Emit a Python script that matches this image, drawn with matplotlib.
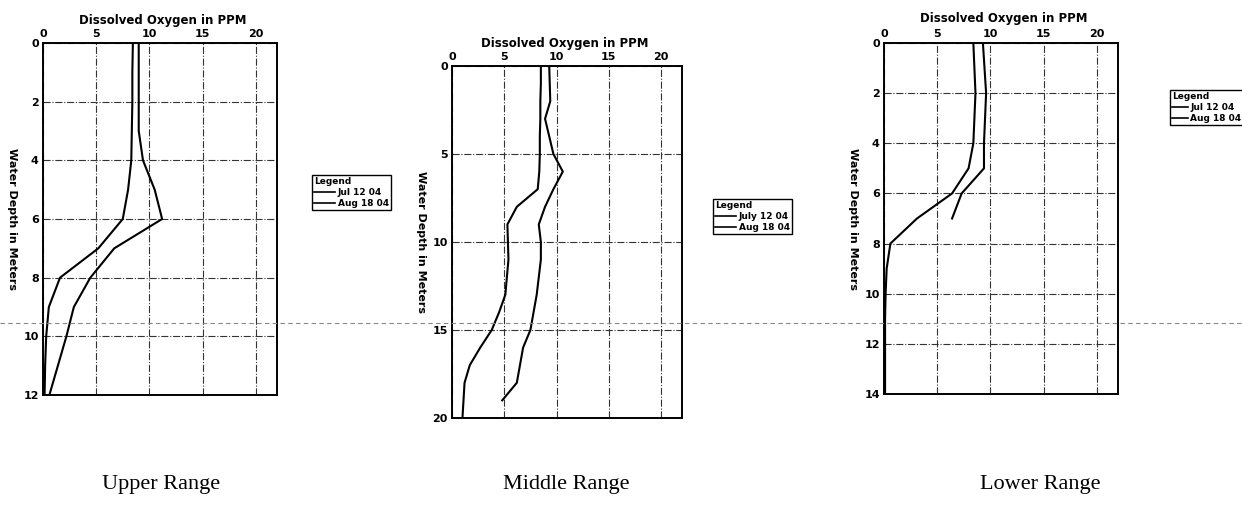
import matplotlib
matplotlib.use("Agg")
import matplotlib.pyplot as plt
from matplotlib.lines import Line2D

# Upper range profile
upper_depth_jul = [0, 1, 2, 3, 4, 5, 6, 7, 8, 9, 10, 11, 12]
upper_do_jul = [9.0, 9.0, 9.0, 9.0, 9.4, 10.5, 11.2, 6.7, 4.45, 2.9, 2.2, 1.4, 0.6]
upper_depth_aug = [0, 1, 2, 3, 4, 5, 6, 7, 8, 9, 10, 11, 12]
upper_do_aug = [8.45, 8.4, 8.4, 8.35, 8.3, 8.0, 7.5, 5.2, 1.6, 0.55, 0.3, 0.2, 0.15]

# Middle range profile
middle_depth_jul = [0, 1, 2, 3, 4, 5, 6, 7, 8, 9, 10, 11, 12, 13, 14, 15, 16, 17, 18, 19]
middle_do_jul = [9.3, 9.35, 9.4, 8.9, 9.3, 9.7, 10.6, 9.7, 8.9, 8.3, 8.5, 8.5, 8.3, 8.1, 7.8, 7.5, 6.8, 6.5, 6.2, 4.8]
middle_depth_aug = [0, 1, 2, 3, 4, 5, 6, 7, 8, 9, 10, 11, 12, 13, 14, 15, 16, 17, 18, 19, 20]
middle_do_aug = [8.5, 8.5, 8.45, 8.45, 8.4, 8.4, 8.35, 8.2, 6.2, 5.3, 5.35, 5.4, 5.25, 5.1, 4.5, 3.8, 2.7, 1.7, 1.2, 1.1, 1.0]

# Lower range profile
lower_depth_jul = [0, 2, 4, 5, 6, 7]
lower_do_jul = [9.3, 9.6, 9.4, 9.4, 7.3, 6.4]
lower_depth_aug = [0, 2, 4, 5, 6, 7, 8, 9, 10, 11, 12, 13, 14]
lower_do_aug = [8.4, 8.6, 8.4, 7.95, 6.4, 3.1, 0.6, 0.25, 0.15, 0.1, 0.1, 0.1, 0.1]

x_ticks = [0, 5, 10, 15, 20]
captions = ["Upper Range", "Middle Range", "Lower Range"]

W, H = 1242, 505
fig = plt.figure(figsize=(W / 100, H / 100), dpi=100)


def px_axes(left, top, right, bottom):
    return fig.add_axes([left / W, 1 - bottom / H, (right - left) / W, (bottom - top) / H])


def draw_panel(ax, d_jul, v_jul, d_aug, v_aug, ymax, yticks, title_x, title_dy):
    ax.plot(v_jul, d_jul, color="black", lw=1.5)
    ax.plot(v_aug, d_aug, color="black", lw=1.5)
    ax.set_xlim(0, 22)
    ax.set_ylim(ymax, 0)
    ax.set_xticks(x_ticks)
    ax.set_yticks(yticks)
    ax.xaxis.tick_top()
    ax.tick_params(length=0, labelsize=8, pad=3)
    for lab in ax.get_xticklabels() + ax.get_yticklabels():
        lab.set_fontweight("bold")
    ax.grid(True, color="#333333", lw=0.8, linestyle="-.")
    for s in ax.spines.values():
        s.set_linewidth(1.4)
    ax.text(title_x, 1 + title_dy, "Dissolved Oxygen in PPM", transform=ax.transAxes,
            ha="center", va="center", fontsize=8.5, fontweight="bold")
    ax.set_ylabel("Water Depth in Meters", rotation=270, fontsize=8, fontweight="bold",
                  labelpad=12, va="bottom")


fig.add_artist(Line2D([0, 1], [1 - 323 / H, 1 - 323 / H], color="#888888", lw=0.8,
                      linestyle=(0, (4, 3))))

ax1 = px_axes(43, 43, 277, 395)
draw_panel(ax1, upper_depth_jul, upper_do_jul, upper_depth_aug, upper_do_aug,
           12, range(0, 13, 2), 0.51, 23 / 352)
ax2 = px_axes(452, 66, 682, 418)
draw_panel(ax2, middle_depth_jul, middle_do_jul, middle_depth_aug, middle_do_aug,
           20, range(0, 21, 5), 0.49, 22 / 352)
ax3 = px_axes(884, 43, 1118, 394)
draw_panel(ax3, lower_depth_jul, lower_do_jul, lower_depth_aug, lower_do_aug,
           14, range(0, 15, 2), 0.51, 25 / 351)

legend_specs = [(312, 175, "Jul 12 04", 2.3), (713, 199, "July 12 04", 2.3),
                (1170, 90, "Jul 12 04", 1.7)]
for x0, y0, jl, hl in legend_specs:
    handles = [Line2D([], [], color="black", lw=1.2), Line2D([], [], color="black", lw=1.2)]
    leg = fig.legend(handles, [jl, "Aug 18 04"], title="Legend", loc="upper left",
                     bbox_to_anchor=(x0 / W, 1 - y0 / H), bbox_transform=fig.transFigure,
                     prop={"size": 6.5, "weight": "bold"}, fancybox=False, framealpha=1,
                     edgecolor="black", handlelength=hl, handletextpad=0.3,
                     labelspacing=0.2, borderpad=0.25, borderaxespad=0)
    leg.get_title().set_fontsize(6.5)
    leg.get_title().set_fontweight("bold")
    leg._legend_box.align = "left"
    leg.get_frame().set_linewidth(1.0)

for x, cap in zip([161, 566, 1040], captions):
    fig.text(x / W, 1 - 485 / H, cap, ha="center", va="center",
             fontsize=16, family="Liberation Serif")

fig.savefig("out.png", dpi=100)
